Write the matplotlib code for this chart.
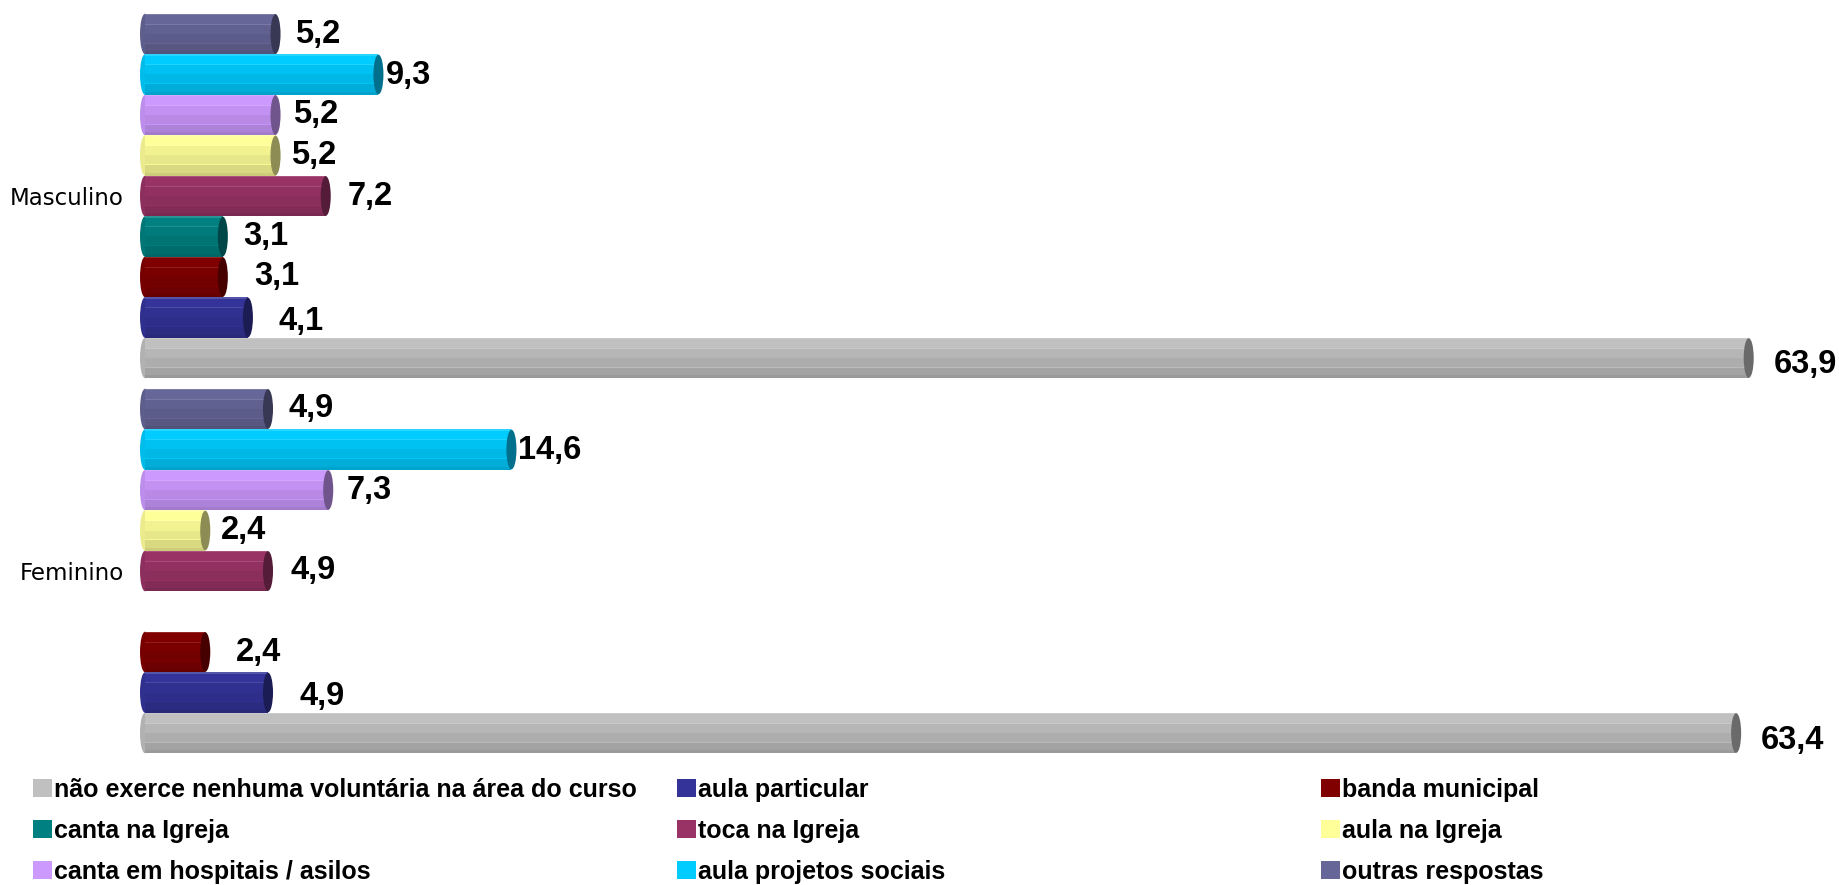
import numpy as np
import matplotlib
matplotlib.use("Agg")
import matplotlib.pyplot as plt
from matplotlib.patches import Ellipse, Patch
from matplotlib.colors import to_rgb

# data (percent)
groups = ["Feminino", "Masculino"]
series = ["não exerce nenhuma voluntária na área do curso", "aula particular",
          "banda municipal", "canta na Igreja", "toca na Igreja", "aula na Igreja",
          "canta em hospitais / asilos", "aula projetos sociais", "outras respostas"]
feminino = [63.4, 4.9, 2.4, None, 4.9, 2.4, 7.3, 14.6, 4.9]
masculino = [63.9, 4.1, 3.1, 3.1, 7.2, 5.2, 5.2, 9.3, 5.2]
colors = ["#c0c0c0", "#333399", "#800000", "#008080", "#993366",
          "#ffff99", "#cc99ff", "#00ccff", "#666699"]

# label placement per series, in pixels past the end cap
label_dx = [20, 26, 26, 15, 17, 11, 13, 2, 15]
label_dy = [7, 4, 0, 0, 0, 0, 0, 1, 0]

W, H = 1840, 885
bar_h = 0.108
cap_w = 0.4


def shade(c, f):
    c = np.array(to_rgb(c))
    if f >= 1:
        return tuple(c + (1 - c) * (f - 1) * 2)
    return tuple(c * f)


# (top, bottom, brightness) fractions of each cylinder
bands = [(0.0, 0.04, 1.08), (0.04, 0.25, 1.0), (0.25, 0.27, 1.06),
         (0.27, 0.5, 0.95), (0.5, 0.72, 0.9), (0.72, 0.74, 0.97),
         (0.74, 0.93, 0.85), (0.93, 1.0, 0.8)]


def cylinder(ax, v, yc, h, color):
    top = yc + h / 2
    ax.add_patch(Ellipse((0, yc), cap_w, h, facecolor=shade(color, 0.92),
                         edgecolor="none", clip_on=False, zorder=2))
    for a, b, f in bands:
        ax.barh(top - (a + b) / 2 * h, v, height=(b - a) * h, left=0,
                color=shade(color, f), linewidth=0, zorder=3)
    ax.add_patch(Ellipse((v, yc), cap_w, h * 0.98, facecolor=shade(color, 0.55),
                         edgecolor="none", clip_on=False, zorder=4))


fig = plt.figure(figsize=(W / 100, H / 100), dpi=100)
ax = fig.add_axes([137.5 / W, 1 - 758.5 / H, 1689 / W, 750 / H])

for g, vals in enumerate([feminino, masculino]):
    for k, v in enumerate(vals):
        if v is None:
            continue
        yc = g + (k - 4) * bar_h
        cylinder(ax, v, yc, bar_h, colors[k])
        ax.annotate(f"{v:.1f}".replace(".", ","), xy=(v, yc),
                    xytext=(5 + label_dx[k], -label_dy[k]), textcoords="offset pixels",
                    ha="left", va="center", fontsize=23.5, fontweight="bold",
                    family="Liberation Sans", annotation_clip=False)

ax.set_xlim(-0.3, 67)
ax.set_ylim(-0.5, 1.5)
ax.set_yticks(range(len(groups)))
ax.set_yticklabels(groups, fontsize=16.5, family="DejaVu Sans")
ax.tick_params(axis="y", length=0, pad=10)
ax.set_xticks([])
for s in ax.spines.values():
    s.set_visible(False)

# legend, three columns laid out row by row
cols = [[0, 3, 6], [1, 4, 7], [2, 5, 8]]
col_x = [33, 677, 1321]
for i, idx in enumerate(cols):
    fig.legend([Patch(facecolor=colors[j], edgecolor="none") for j in idx],
               [series[j] for j in idx], loc="upper left",
               bbox_to_anchor=(col_x[i] / W, 1 - 778 / H), frameon=False,
               borderpad=0, borderaxespad=0, handlelength=0.75, handleheight=0.75,
               handletextpad=0.08, labelspacing=0.68,
               prop=dict(family="Liberation Sans", weight="bold", size=18))

fig.savefig("out.png", dpi=100)
